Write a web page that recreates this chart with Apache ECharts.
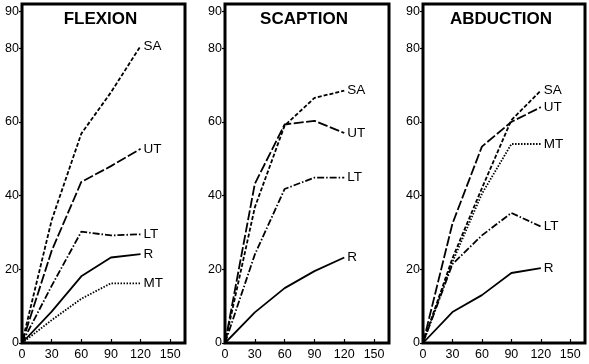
<!DOCTYPE html>
<html><head><meta charset="utf-8">
<script src="https://cdn.jsdelivr.net/npm/echarts@6/dist/echarts.min.js"></script>
<style>html,body{margin:0;padding:0;background:#fff}#c{width:589px;height:364px}</style>
</head><body><div id="c"></div>
<script>
// Data
const angles = [0, 30, 60, 90, 120];
const panelTitles = ['FLEXION', 'SCAPTION', 'ABDUCTION'];
const yTicks = [0, 20, 40, 60, 80, 90];
const xTicks = [0, 30, 60, 90, 120, 150];

const flexSA = [0, 33.3, 56.8, 68, 80.6];
const flexUT = [0, 25, 43.7, 48, 52.7];
const flexLT = [0, 15.5, 30.2, 29.2, 29.5];
const flexR  = [0, 8.5, 18.1, 23.2, 24.1];
const flexMT = [0, 6.2, 12, 16.2, 16.2];

const scapSA = [0, 36.8, 59, 66.5, 68.5];
const scapUT = [0, 43.2, 59.3, 60.3, 57];
const scapLT = [0, 24, 41.8, 44.9, 44.9];
const scapR  = [0, 8.3, 14.9, 19.5, 23.2];

const abdSA = [0, 23, 42, 60.5, 68.5];
const abdUT = [0, 32.4, 53.3, 60, 64];
const abdMT = [0, 22, 40.5, 54, 54];
const abdLT = [0, 21.4, 29.2, 35.3, 31.6];
const abdR  = [0, 8.4, 13, 19, 20.3];

const styles = {
  SA: [4, 2],
  UT: [10, 2.5],
  LT: [7, 2, 1.5, 2],
  R: 'solid',
  MT: [1.5, 1.5]
};

const panels = [
  {SA: flexSA, UT: flexUT, LT: flexLT, R: flexR, MT: flexMT},
  {SA: scapSA, UT: scapUT, LT: scapLT, R: scapR},
  {SA: abdSA, UT: abdUT, MT: abdMT, LT: abdLT, R: abdR}
];

const grids = [
  {left: 22, top: 4, width: 163, height: 339},
  {left: 225, top: 4, width: 164, height: 339},
  {left: 423, top: 4, width: 162, height: 339}
];

const font = 'Liberation Sans, Arial, sans-serif';
const chart = echarts.init(document.getElementById('c'), null, {renderer: 'canvas'});

const xAxis = [], yAxis = [], series = [], titles = [];
grids.forEach((g, i) => {
  xAxis.push({
    type: 'value', gridIndex: i, min: 0, max: 165,
    axisLine: {show: false},
    axisTick: {show: true, inside: true, length: 4, customValues: xTicks, lineStyle: {color: '#000', width: 1.2}},
    axisLabel: {customValues: xTicks, color: '#000', fontFamily: font, fontSize: 12.5, margin: 5},
    splitLine: {show: false}
  });
  yAxis.push({
    type: 'value', gridIndex: i, min: 0, max: 92,
    axisLine: {show: false},
    axisTick: {show: true, inside: false, length: 3, customValues: yTicks, lineStyle: {color: '#000', width: 1.2}},
    axisLabel: {customValues: yTicks, color: '#000', fontFamily: font, fontSize: 12.5, margin: 3},
    splitLine: {show: false}
  });
  titles.push({
    text: panelTitles[i], left: g.left + g.width / 2 - 3, top: 11, textAlign: 'center', padding: 0,
    textStyle: {fontFamily: font, fontWeight: 'bold', fontSize: 17, color: '#000'}
  });
  const p = panels[i];
  Object.keys(p).forEach(name => {
    series.push({
      type: 'line', name: name, xAxisIndex: i, yAxisIndex: i,
      data: angles.map((a, k) => [a, p[name][k]]),
      symbol: 'none', smooth: false, animation: false,
      lineStyle: {color: '#000', width: 1.8, type: styles[name]},
      endLabel: {show: true, formatter: name, color: '#000', fontFamily: font, fontSize: 13.5, distance: 3}
    });
  });
});

chart.setOption({
  animation: false,
  title: titles,
  grid: grids.map(g => Object.assign({show: true, borderColor: '#000', borderWidth: 3, backgroundColor: 'transparent'}, g)),
  xAxis: xAxis,
  yAxis: yAxis,
  series: series
});
</script>
</body></html>
